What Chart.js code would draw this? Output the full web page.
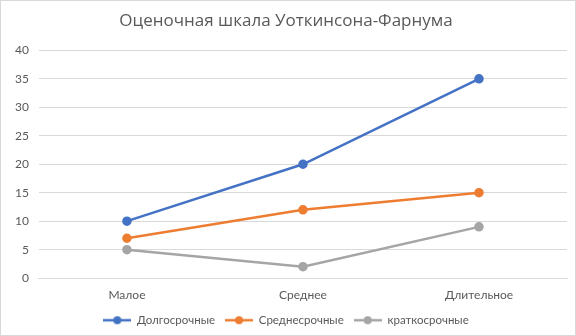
<!DOCTYPE html>
<html>
<head>
<meta charset="utf-8">
<script src="https://cdn.jsdelivr.net/npm/chart.js@4"></script>
<style>
  body { margin: 0; background: #fff; }
  #wrap { width: 574px; height: 334px; border: 1px solid #d9d9d9; }
</style>
</head>
<body>
<div id="wrap"><canvas id="chart"></canvas></div>
<script>
const categories = ['Малое', 'Среднее', 'Длительное'];
const longTerm = [10, 20, 35];
const midTerm = [7, 12, 15];
const shortTerm = [5, 2, 9];

const colors = ['#4472C4', '#ED7D31', '#A5A5A5'];

// legend marker: line with a dot in the middle
function marker(color) {
  const c = document.createElement('canvas');
  c.width = 28; c.height = 10;
  const g = c.getContext('2d');
  g.strokeStyle = color;
  g.lineWidth = 2.5;
  g.beginPath(); g.moveTo(0, 5); g.lineTo(28, 5); g.stroke();
  g.fillStyle = color;
  g.beginPath(); g.arc(14, 5, 4, 0, Math.PI * 2); g.fill();
  return c;
}

function series(label, data, color) {
  return {
    label: label,
    data: data,
    borderColor: color,
    backgroundColor: color,
    borderWidth: 2.5,
    pointRadius: 3.5,
    pointHoverRadius: 4,
    tension: 0
  };
}

const ctx = document.getElementById('chart').getContext('2d');
const myChart = new Chart(ctx, {
  type: 'line',
  data: {
    labels: categories,
    datasets: [
      series('Долгосрочные', longTerm, colors[0]),
      series('Среднесрочные', midTerm, colors[1]),
      series('краткосрочные', shortTerm, colors[2])
    ]
  },
  options: {
    responsive: true,
    maintainAspectRatio: false,
    animation: false,
    layout: { padding: { left: 4, right: 8, top: 4, bottom: -1 } },
    plugins: {
      title: {
        display: true,
        text: 'Оценочная шкала Уоткинсона-Фарнума',
        color: '#595959',
        font: { family: 'Open Sans', size: 17, weight: 'normal' },
        padding: { top: 6, bottom: 19 }
      },
      legend: {
        position: 'bottom',
        labels: {
          usePointStyle: true,
          boxWidth: 28,
          boxHeight: 10,
          pointStyleWidth: 28,
          color: '#595959',
          font: { family: 'Lato', size: 11.5 },
          padding: 10,
          generateLabels: function (chart) {
            return chart.data.datasets.map(function (ds, i) {
              return {
                text: ds.label,
                pointStyle: marker(colors[i]),
                fontColor: '#595959',
                strokeStyle: colors[i],
                fillStyle: colors[i],
                datasetIndex: i,
                hidden: false
              };
            });
          }
        }
      },
      tooltip: { enabled: false }
    },
    scales: {
      y: {
        min: 0,
        max: 40,
        ticks: {
          stepSize: 5,
          color: '#595959',
          font: { family: 'Lato', size: 12 },
          padding: 10
        },
        grid: { color: '#d9d9d9', drawTicks: false },
        border: { display: false }
      },
      x: {
        offset: true,
        ticks: {
          color: '#595959',
          font: { family: 'Lato', size: 12 },
          padding: 2
        },
        grid: { display: false, offset: true },
        border: { color: '#d9d9d9' }
      }
    }
  }
});
</script>
</body>
</html>
